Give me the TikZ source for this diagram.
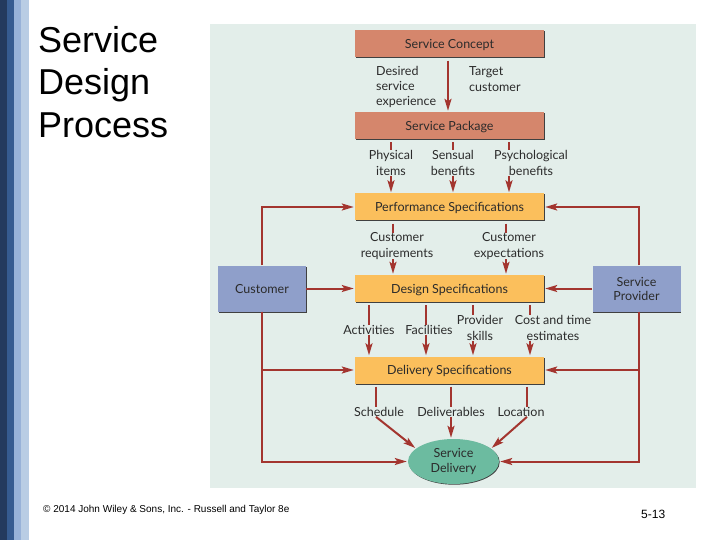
\documentclass[tikz,border=0pt]{standalone}
\usepackage{fontspec}
\setmainfont{Liberation Sans}
\newfontfamily\figfont{Lato}
\usetikzlibrary{arrows.meta,shapes.geometric,shadows}
\definecolor{panel}{HTML}{E3EEEA}
\definecolor{flow}{HTML}{A3352F}
\definecolor{salmon}{HTML}{D5866C}
\definecolor{amber}{HTML}{FBBF5C}
\definecolor{slate}{HTML}{8F9FCA}
\definecolor{teal}{HTML}{6CBBA0}
\definecolor{inkdark}{HTML}{2B2B2B}
\definecolor{stripea}{HTML}{243A5E}
\definecolor{stripeb}{HTML}{365B90}
\definecolor{stripec}{HTML}{98B2D8}
\definecolor{striped}{HTML}{B9CDE4}
\begin{document}
\begin{tikzpicture}[x=1pt, y=-1pt, >={Stealth[length=12pt,width=7pt,inset=2.5pt]}, node distance=81.5pt]
    \tikzstyle{box} = [minimum width=189pt, minimum height=27pt, inner sep=0pt,
	text=inkdark, font=\figfont\fontsize{12.5}{14}\selectfont,
	general shadow={shadow xshift=0.5pt, shadow yshift=-1pt, fill=black!75}]
    \tikzstyle{oneline} = [text height=9.5pt, text depth=0pt]
    \tikzstyle{concept} = [box, oneline, fill=salmon]
    \tikzstyle{spec} = [box, oneline, fill=amber]
    \tikzstyle{party} = [box, fill=slate, minimum width=88pt, minimum height=46pt, align=center]
    \tikzstyle{tag} = [inner sep=0pt, text=inkdark, font=\figfont\fontsize{12.5}{15.3}\selectfont]
    \tikzstyle{flowline} = [flow, line width=2pt]
    \tikzstyle{stub} = [flowline, -, shorten <=3pt]
    \tikzstyle{head} = [flowline, ->, shorten >=1pt]
    \tikzstyle{rise} = [to path={|- (\tikztotarget)}]

	\useasboundingbox (0,0) rectangle (720,540);

	% side stripes and panel
	\fill[white] (0,0) rectangle (720,540);
	\fill[stripea] (0,0) rectangle (7,540);
	\fill[stripeb] (7,0) rectangle (14,540);
	\fill[stripec] (14,0) rectangle (21,540);
	\fill[striped] (21,0) rectangle (29,540);
	\fill[panel] (210,24) rectangle (696,488);

	\begin{scope}
		\path
			node[concept] (concept) at (449.5,44) {Service Concept}
			node[concept, below of=concept] (package) {Service Package}
			node[spec, below of=package] (performance) {Performance Specifications}
			node[spec, below of=performance] (design) {Design Specifications}
			node[spec, below of=design] (delivery) {Delivery Specifications}

			node[party, oneline, left of=design, node distance=187.5pt] (customer) {Customer}
			node[party, right of=design, node distance=187pt] (provider) {Service\\Provider}
			node[ellipse, fill=teal, minimum width=91pt, minimum height=45pt, inner sep=0pt,
				align=center, text=inkdark, font=\figfont\fontsize{12.5}{15.3}\selectfont,
				general shadow={shadow xshift=0.7pt, shadow yshift=-0.7pt, fill=black!75}]
				(service) at (453.5,461.5) {Service\\Delivery}

			node[tag, align=left, anchor=west] (desired) at (376,87) {Desired\\service\\experience}
			node[tag, align=left, anchor=west] (target) at (469,79) {Target\\customer}
			node[tag, align=center] (physical) at (391,163) {Physical\\items}
			node[tag, align=center] (sensual) at (453,163) {Sensual\\benefits}
			node[tag, align=center] (psychological) at (531,163) {Psychological\\benefits}
			node[tag, align=center] (requirements) at (397,246) {Customer\\requirements}
			node[tag, align=center] (expectations) at (509,246) {Customer\\expectations}
			node[tag] (activities) at (369,330) {Activities}
			node[tag] (facilities) at (429,330) {Facilities}
			node[tag, align=center] (skills) at (480,328) {Provider\\skills}
			node[tag, align=center] (estimates) at (553,328) {Cost and time\\estimates}
			node[tag] (schedule) at (379,412) {Schedule}
			node[tag] (deliverables) at (451,412) {Deliverables}
			node[tag] (location) at (521,412) {Location}

			coordinate (psy) at (509,163)
			coordinate (req) at (393,245)
			coordinate (exp) at (506,245)
			coordinate (fac) at (426,330)
			coordinate (ski) at (473,327)
			coordinate (est) at (530,327)
			coordinate (sch) at (376,412)
			coordinate (loc) at (527,412)
			coordinate (rail) at (639,288)
		;

		\path
			(concept.south -| 448,0) edge[head, shorten <=3pt] (package.north -| 448,0)

			(package.south -| physical) edge[stub] (physical.north)
			(physical.south) edge[head] (performance.north -| physical)
			(package.south -| sensual) edge[stub] (sensual.north)
			(sensual.south) edge[head] (performance.north -| sensual)
			(package.south -| psy) edge[stub] (psychological.north -| psy)
			(psychological.south -| psy) edge[head] (performance.north -| psy)

			(performance.south -| req) edge[stub] (requirements.north -| req)
			(requirements.south -| req) edge[head] (design.north -| req)
			(performance.south -| exp) edge[stub] (expectations.north -| exp)
			(expectations.south -| exp) edge[head] (design.north -| exp)

			(design.south -| activities) edge[stub] (activities.north)
			(activities.south) edge[head] (delivery.north -| activities)
			(design.south -| fac) edge[stub] (facilities.north -| fac)
			(facilities.south -| fac) edge[head] (delivery.north -| fac)
			(design.south -| ski) edge[stub] (skills.north -| ski)
			(skills.south -| ski) edge[head] (delivery.north -| ski)
			(design.south -| est) edge[stub] (estimates.north -| est)
			(estimates.south -| est) edge[head] (delivery.north -| est)

			(delivery.south -| sch) edge[stub] (schedule.north -| sch)
			(schedule.south -| sch) edge[head] (service.161)
			(delivery.south -| deliverables) edge[stub] (deliverables.north)
			(deliverables.south) edge[head] (service.north -| deliverables)
			(delivery.south -| loc) edge[stub] (location.north -| loc)
			(location.south -| loc) edge[head] (service.19)

			(customer.north) edge[head, rise] (performance.west)
			(customer.east) edge[head] (design.west)
			(customer.south) edge[head, rise] (delivery.west)
			(customer.south) edge[head, rise] (service.west)

			(provider.north -| rail) edge[head, rise] (performance.east)
			(provider.west) edge[head] (design.east)
			(provider.south -| rail) edge[head, rise] (delivery.east)
			(provider.south -| rail) edge[head, rise] (service.east)
		;
	\end{scope}

	% slide texts
	\node[anchor=north west, inner sep=0pt, align=left, font=\fontsize{36}{42.5}\selectfont] (title) at (38,26) {Service\\Design\\Process};
	\node[anchor=west, inner sep=0pt, font=\fontsize{10}{12}\selectfont] (footer) at (43,510) {© 2014 John Wiley \& Sons, Inc. - Russell and Taylor 8e};
	\node[anchor=west, inner sep=0pt, font=\fontsize{12}{14}\selectfont] (pageno) at (641,514) {5-13};
\end{tikzpicture}
\end{document}
